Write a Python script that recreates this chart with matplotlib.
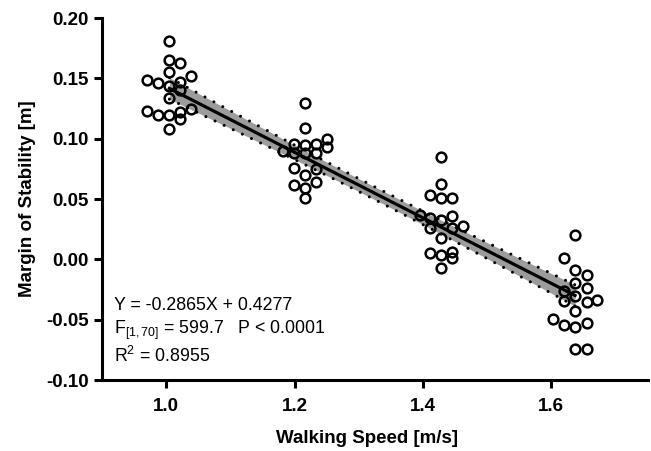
import numpy as np
import matplotlib
matplotlib.use("Agg")
import matplotlib.pyplot as plt

plt.rcParams['font.family'] = ['Liberation Sans', 'DejaVu Sans']
plt.rcParams['mathtext.fontset'] = 'custom'
plt.rcParams['mathtext.rm'] = 'Liberation Sans'
plt.rcParams['mathtext.it'] = 'Liberation Sans:italic'
plt.rcParams['mathtext.bf'] = 'Liberation Sans:bold'

# ---- data ----
speed_100_x = [1.005, 1.005, 1.021, 1.005, 0.970, 0.988, 1.005, 1.021, 1.039,
               1.021, 1.005, 1.039, 0.970, 0.988, 1.005, 1.021, 1.021, 1.005]
speed_100_y = [0.181, 0.165, 0.163, 0.155, 0.149, 0.146, 0.144, 0.147, 0.152,
               0.140, 0.134, 0.125, 0.123, 0.120, 0.120, 0.122, 0.116, 0.108]

speed_120_x = [1.216, 1.216, 1.199, 1.216, 1.234, 1.251, 1.251, 1.182, 1.199,
               1.216, 1.234, 1.199, 1.234, 1.216, 1.199, 1.234, 1.216, 1.216]
speed_120_y = [0.130, 0.109, 0.096, 0.095, 0.096, 0.100, 0.093, 0.090, 0.088,
               0.088, 0.088, 0.076, 0.075, 0.070, 0.062, 0.064, 0.059, 0.0505]

speed_140_x = [1.428, 1.428, 1.411, 1.428, 1.445, 1.445, 1.396, 1.411, 1.428,
               1.462, 1.445, 1.411, 1.428, 1.411, 1.428, 1.445, 1.445, 1.428]
speed_140_y = [0.0845, 0.0624, 0.053, 0.0506, 0.051, 0.036, 0.0367, 0.0345, 0.0326,
               0.0277, 0.0262, 0.0257, 0.018, 0.005, 0.0036, 0.0058, 0.0008, -0.0075]

speed_160_x = [1.637, 1.620, 1.637, 1.655, 1.637, 1.655, 1.620, 1.637, 1.620,
               1.655, 1.672, 1.637, 1.603, 1.620, 1.637, 1.655, 1.637, 1.655]
speed_160_y = [0.020, 0.0008, -0.0088, -0.0129, -0.0193, -0.0234, -0.0262, -0.0303, -0.0345,
               -0.0353, -0.0336, -0.0428, -0.0492, -0.0547, -0.0559, -0.053, -0.0743, -0.0743]

x_ticks = [1.0, 1.2, 1.4, 1.6]
y_ticks = [-0.10, -0.05, 0.00, 0.05, 0.10, 0.15, 0.20]

equation_text = "Y = -0.2865X + 0.4277"
f_text = r"F$_{[1,70]}$ = 599.7   P < 0.0001"
r2_text = r"R$^2$ = 0.8955"

# ---- fit + 95% confidence band computed from data ----
xs = np.array(speed_100_x + speed_120_x + speed_140_x + speed_160_x)
ys = np.array(speed_100_y + speed_120_y + speed_140_y + speed_160_y)
n = len(xs)
slope, intercept = np.polyfit(xs, ys, 1)
resid = ys - (slope * xs + intercept)
s = np.sqrt(np.sum(resid ** 2) / (n - 2))
sxx = np.sum((xs - xs.mean()) ** 2)
t95 = 1.994
xl = np.linspace(np.median(speed_100_x), np.median(speed_160_x), 200)
yl = slope * xl + intercept
half = t95 * s * np.sqrt(1.0 / n + (xl - xs.mean()) ** 2 / sxx)

fig = plt.figure(figsize=(6.51, 4.51), dpi=100)
ax = fig.add_axes([0.1567, 0.1574, 0.838, 0.8026])

ax.fill_between(xl, yl - half, yl + half, color='#9c9c9c', lw=0, zorder=1)
for sign in (-1, 1):
    ax.plot(xl, yl + sign * half, color='black', lw=2.2, dashes=(0.01, 3.3),
            dash_capstyle='round', zorder=2)
ax.plot(xl, yl, color='black', lw=2.3, zorder=3)

for gx, gy in ((speed_100_x, speed_100_y), (speed_120_x, speed_120_y),
               (speed_140_x, speed_140_y), (speed_160_x, speed_160_y)):
    ax.plot(gx, gy, 'o', ms=7, mfc='none', mec='black', mew=1.8, zorder=4)

ax.set_xlim(0.9, 1.75)
ax.set_ylim(-0.10, 0.20)
ax.set_xticks(x_ticks)
ax.set_xticklabels([f"{v:.1f}" for v in x_ticks])
ax.set_yticks(y_ticks)
ax.set_yticklabels([f"{v:.2f}" for v in y_ticks])

for side in ('top', 'right'):
    ax.spines[side].set_visible(False)
for side in ('left', 'bottom'):
    ax.spines[side].set_linewidth(2.2)
ax.tick_params(axis='both', direction='out', length=6, width=2.2, labelsize=13.5, pad=3.5)
for lab in ax.get_xticklabels() + ax.get_yticklabels():
    lab.set_fontweight('bold')
ax.tick_params(axis='x', pad=7)

ax.set_xlabel("Walking Speed [m/s]", fontsize=13.5, fontweight='bold')
ax.xaxis.set_label_coords(0.486, -0.138)
ax.set_ylabel("Margin of Stability [m]", fontsize=13.5, fontweight='bold', labelpad=7)

ax.text(0.919, -0.0420, equation_text, fontsize=12.8, va='baseline', ha='left')
ax.text(0.919, -0.0619, f_text, fontsize=12.8, va='baseline', ha='left')
ax.text(0.919, -0.0851, r2_text, fontsize=12.8, va='baseline', ha='left')

fig.savefig("out.png", dpi=100)
